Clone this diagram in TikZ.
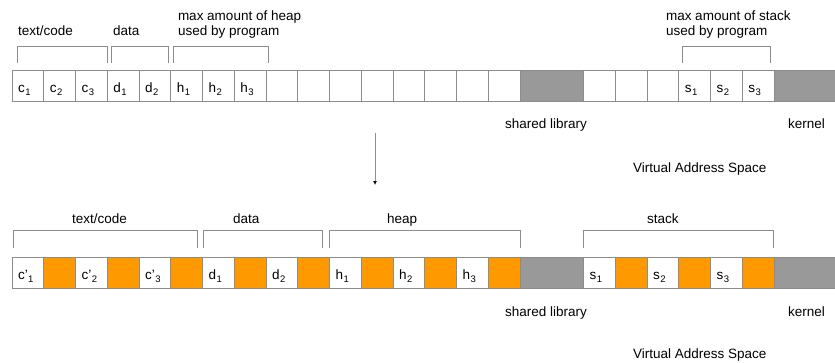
\documentclass[tikz,border=0pt]{standalone}
\usepackage{fontspec}
\setmainfont{Liberation Sans}
\usetikzlibrary{arrows.meta}
\definecolor{linegray}{HTML}{8C8C8C}
\definecolor{grayfill}{HTML}{999999}
\definecolor{orangefill}{HTML}{FF9900}
\newcommand\cellsub[1]{\kern0.5pt\raisebox{-3pt}{\fontsize{9.5}{10}\selectfont #1}}
\begin{document}
\begin{tikzpicture}[x=1pt,y=-1pt,
  every node/.style={font=\fontsize{13.5}{16}\selectfont, inner sep=0pt, outer sep=0pt},
  cell/.style={draw=linegray, line width=0.8pt, minimum width=31.75pt, minimum height=31pt, anchor=north west},
  wcell/.style={cell, fill=white},
  ocell/.style={cell, fill=orangefill},
  gcell/.style={cell, fill=grayfill},
  brack/.style={draw=linegray, line width=0.8pt},
  lbl/.style={anchor=base west},
  cl/.style={anchor=base west}
]
\useasboundingbox (0,0) rectangle (835,362);

% ---------- top row ----------
\foreach \i in {0,...,15,18,19,20,21,22,23}
  \node[wcell] (t\i) at ({12+\i*31.75},70.5) {};
\node[gcell, minimum width=63.5pt] (tshared) at (520,70.5) {};
\node[gcell, minimum width=70pt] (tkernel) at (774,70.5) {};

\foreach \i/\t/\s in {0/c/1,1/c/2,2/c/3,3/d/1,4/d/2,5/h/1,6/h/2,7/h/3,21/s/1,22/s/2,23/s/3}
  \node[cl] (tl\i) at ([xshift=6pt]t\i.north west |- 0,92) {\t\cellsub{\s}};

% top brackets
\draw[brack] (17,63) -- (17,46) -- (107,46) -- (107,63);
\draw[brack] (111,63) -- (111,46) -- (168,46) -- (168,63);
\draw[brack] (173,63) -- (173,46) -- (268,46) -- (268,63);
\draw[brack] (682,63) -- (682,46) -- (770,46) -- (770,63);

\node[lbl] (ttext) at (18,35.5) {text/code};
\node[lbl] (tdata) at (113,35.5) {data};
\node[lbl] (theap1) at (178,20) {max amount of heap};
\node[lbl] (theap2) at (178,35.5) {used by program};
\node[lbl] (tstack1) at (666,20) {max amount of stack};
\node[lbl] (tstack2) at (666,35.5) {used by program};
\node[lbl] (tsl) at (505,128) {shared library};
\node[lbl] (tk) at (788,128) {kernel};
\node[lbl] (tvas) at (633,172) {Virtual Address Space};

% arrow
\coordinate (a1) at (375,133);
\coordinate (a2) at (375,185);
\draw[linegray, line width=0.8pt, -{Latex[black,length=4pt,width=4pt]}] (a1) -- (a2);

% ---------- bottom row ----------
\foreach \i in {0,2,...,14,18,20,22}
  \node[wcell] (b\i) at ({12+\i*31.75},257) {};
\foreach \i in {1,3,...,15,19,21,23}
  \node[ocell] (b\i) at ({12+\i*31.75},257) {};
\node[gcell, minimum width=63.5pt] (bshared) at (520,257) {};
\node[gcell, minimum width=70pt] (bkernel) at (774,257) {};

\foreach \i/\t/\s in {0/c'/1,2/c'/2,4/c'/3,6/d/1,8/d/2,10/h/1,12/h/2,14/h/3,18/s/1,20/s/2,22/s/3}
  \node[cl] (bl\i) at ([xshift=6pt]b\i.north west |- 0,279.5) {\t\cellsub{\s}};

% bottom brackets
\draw[brack] (13,248) -- (13,230) -- (197,230) -- (197,248);
\draw[brack] (203,248) -- (203,230) -- (322,230) -- (322,248);
\draw[brack] (329,248) -- (329,230) -- (520,230) -- (520,248);
\draw[brack] (583,248) -- (583,230) -- (773,230) -- (773,248);

\node[lbl] (btext) at (72,223) {text/code};
\node[lbl] (bdata) at (233,223) {data};
\node[lbl] (bheap) at (387,223) {heap};
\node[lbl] (bstack) at (647,223) {stack};
\node[lbl] (bsl) at (505,316) {shared library};
\node[lbl] (bk) at (788,316) {kernel};
\node[lbl] (bvas) at (633,358) {Virtual Address Space};
\end{tikzpicture}
\end{document}
